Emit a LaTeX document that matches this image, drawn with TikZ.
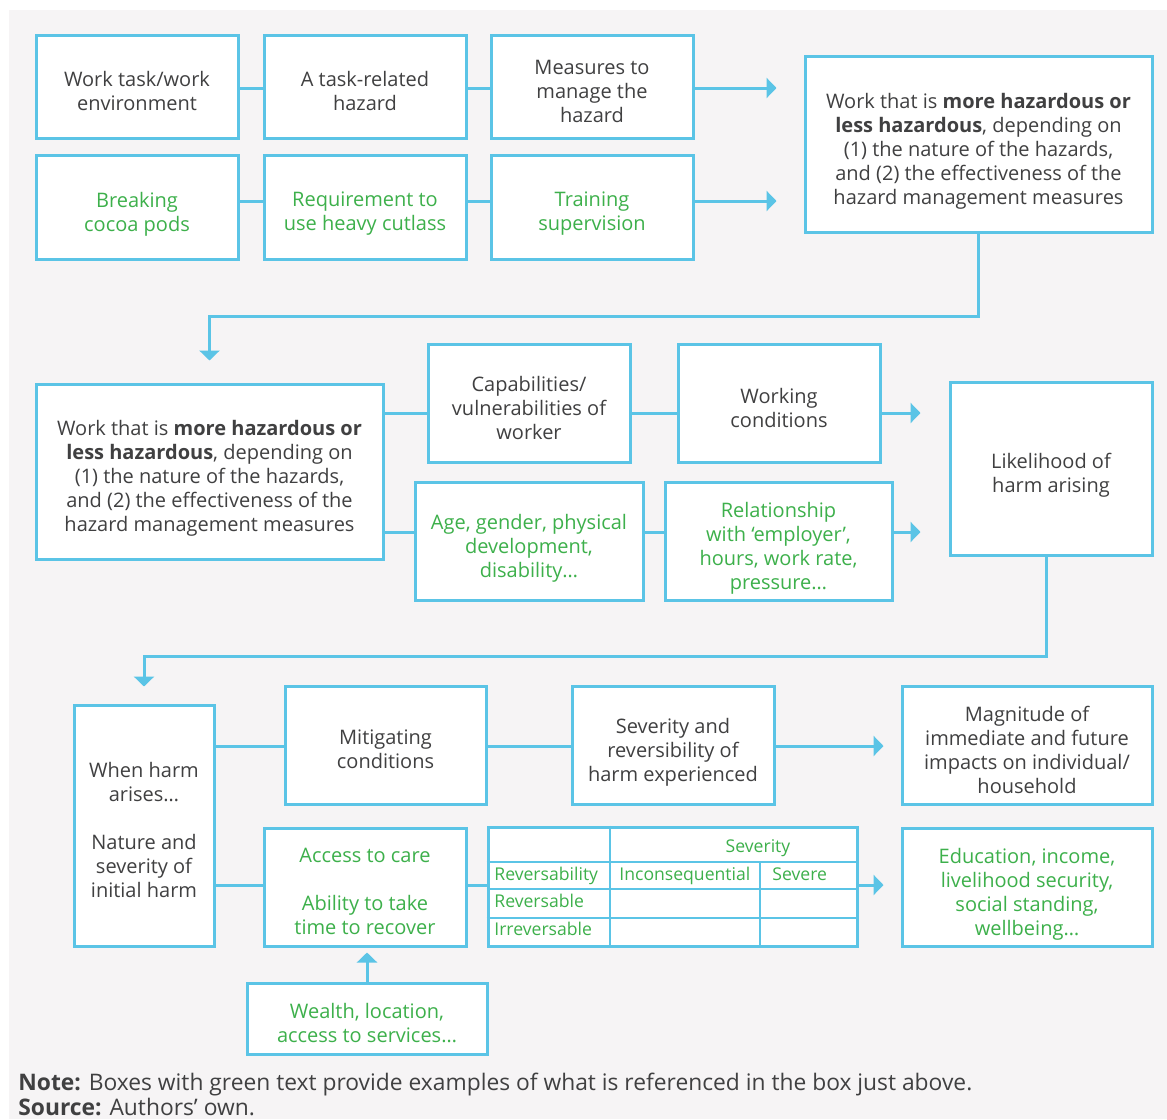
\documentclass[tikz,border=0pt]{standalone}
\usepackage{fontspec}
\setmainfont{Open Sans}
\usetikzlibrary{arrows.meta, calc}

\definecolor{linkblue}{HTML}{5BC4E6}
\definecolor{leafgreen}{HTML}{3DB04B}
\definecolor{inkgray}{HTML}{404041}
\definecolor{pagegray}{HTML}{F6F4F5}

\tikzset{
  box/.style={draw=linkblue, line width=1.5pt, fill=white, align=center,
    inner sep=1pt, text=inkgray, font=\fontsize{10}{12}\selectfont,
    text depth=0pt,
    execute at begin node={\lower4.6pt\hbox\bgroup},
    execute at end node={\egroup}},
  eg/.style={box, text=leafgreen},
  link/.style={draw=linkblue, line width=1.5pt},
  arrow/.style={link, -{Triangle[length=5pt, width=10pt]}},
  cell/.style={text=leafgreen, font=\fontsize{8.8}{10}\selectfont, inner sep=0pt},
  notetext/.style={text=inkgray, inner sep=0pt, anchor=base west,
    font=\fontsize{11.4}{13}\selectfont},
}

\begin{document}
\begin{tikzpicture}[x=0.5pt, y=-0.5pt]
  \useasboundingbox (0,0) rectangle (1167,1119);
  \fill[white] (0,0) rectangle (1167,1119);
  \fill[pagegray] (9,10) rectangle (1167,1119);

  % Levels of the connectors
  \coordinate (r1) at (0,88);
  \coordinate (r2) at (0,201);
  \coordinate (r3) at (0,413);
  \coordinate (r4) at (0,532);
  \coordinate (r5) at (0,746);
  \coordinate (r6) at (0,885);

  % Top block
  \node[box, minimum width=101pt, minimum height=51.5pt] (task) at (137,86.5) {Work task/work\\environment};
  \node[box, minimum width=101pt, minimum height=51.5pt] (hazard) at (365,86.5) {A task-related\\hazard};
  \node[box, minimum width=101pt, minimum height=51.5pt] (measures) at (592,86.5) {Measures to\\manage the\\hazard};
  \node[eg, minimum width=101pt, minimum height=52pt] (pods) at (137,207) {Breaking\\cocoa pods};
  \node[eg, minimum width=101pt, minimum height=52pt] (cutlass) at (365,207) {Requirement to\\use heavy cutlass};
  \node[eg, minimum width=101pt, minimum height=52pt] (training) at (592,207) {Training\\supervision};
  \node[box, minimum width=173.5pt, minimum height=88pt] (exposure) at (978.5,144)
    {Work that is \textbf{more hazardous or}\\\textbf{less hazardous}, depending on\\(1) the nature of the hazards,\\and (2) the effectiveness of the\\hazard management measures};

  \draw[link] (task.east |- r1) -- (hazard.west |- r1);
  \draw[link] (hazard.east |- r1) -- (measures.west |- r1);
  \draw[arrow, shorten >=13.5pt] (measures.east |- r1) -- (exposure.west |- r1);
  \draw[link] (pods.east |- r2) -- (cutlass.west |- r2);
  \draw[link] (cutlass.east |- r2) -- (training.west |- r2);
  \draw[arrow, shorten >=13.5pt] (training.east |- r2) -- (exposure.west |- r2);

  % Middle block
  \node[box, minimum width=173.5pt, minimum height=87.5pt] (exposureb) at (209.5,471.5)
    {Work that is \textbf{more hazardous or}\\\textbf{less hazardous}, depending on\\(1) the nature of the hazards,\\and (2) the effectiveness of the\\hazard management measures};
  \node[box, minimum width=101pt, minimum height=59pt] (capability) at (529,403) {Capabilities/\\vulnerabilities of\\worker};
  \node[box, minimum width=101pt, minimum height=59pt] (conditions) at (779,403) {Working\\conditions};
  \node[eg, minimum width=114pt, minimum height=59pt] (profile) at (529,541) {Age, gender, physical\\development,\\disability…};
  \node[eg, minimum width=113.5pt, minimum height=59pt] (relation) at (778.5,541) {Relationship\\with ‘employer’,\\hours, work rate,\\pressure…};
  \node[box, minimum width=101pt, minimum height=86.5pt] (likelihood) at (1051,468.5) {Likelihood of\\harm arising};

  \draw[arrow, shorten >=11pt] (exposure.south) -- ++(0,83) -| (exposureb.north);
  \draw[link] (exposureb.east |- r3) -- (capability.west |- r3);
  \draw[link] (capability.east |- r3) -- (conditions.west |- r3);
  \draw[arrow, shorten >=14pt] (conditions.east |- r3) -- (likelihood.west |- r3);
  \draw[link] (exposureb.east |- r4) -- (profile.west |- r4);
  \draw[link] (profile.east |- r4) -- (relation.west |- r4);
  \draw[arrow, shorten >=14pt] (relation.east |- r4) -- (likelihood.west |- r4);

  % Bottom block
  \node[box, minimum width=70pt, minimum height=120.5pt] (harm) at (144,825.5)
    {When harm\\arises…\\[12pt]Nature and\\severity of\\initial harm};
  \node[box, minimum width=100.5pt, minimum height=59pt] (mitigation) at (385.5,745) {Mitigating\\conditions};
  \node[box, minimum width=101pt, minimum height=59pt] (severity) at (673,745) {Severity and\\reversibility of\\harm experienced};
  \node[box, minimum width=125pt, minimum height=59pt] (magnitude) at (1027,745) {Magnitude of\\immediate and future\\impacts on individual/\\household};
  \node[eg, minimum width=101pt, minimum height=59pt] (care) at (365,887) {Access to care\\[12pt]Ability to take\\time to recover};
  \node[eg, minimum width=125pt, minimum height=59pt] (impacts) at (1027,887) {Education, income,\\livelihood security,\\social standing,\\wellbeing…};
  \node[eg, minimum width=120pt, minimum height=35.5pt] (wealth) at (367,1018.5) {Wealth, location,\\access to services…};

  % Severity table
  \node[draw=linkblue, line width=1.5pt, fill=white, inner sep=0pt,
    minimum width=184.5pt, minimum height=59.5pt] (grid) at (672.5,886.5) {};
  \foreach \y in {862,889,918}
    \draw[link, line width=1.2pt] (grid.west |- 0,\y) -- (grid.east |- 0,\y);
  \draw[link, line width=1.2pt] (grid.north -| 610,0) -- (grid.south -| 610,0);
  \draw[link, line width=1.2pt] (760,862) -- (grid.south -| 760,0);
  \node[cell, anchor=base] (sevhead) at (758,852) {Severity};
  \node[cell, anchor=base west] (revhead) at (494,880) {Reversability};
  \node[cell, anchor=base west] (mild) at (619,880) {Inconsequential};
  \node[cell, anchor=base west] (grave) at (772,880) {Severe};
  \node[cell, anchor=base west] (revrow) at (494,907) {Reversable};
  \node[cell, anchor=base west] (irrevrow) at (494,935) {Irreversable};

  \draw[arrow, shorten >=8.5pt] ([xshift=-2.5pt]likelihood.south) -- ++(0,100) -| (harm.north);
  \draw[link] (harm.east |- r5) -- (mitigation.west |- r5);
  \draw[link] (mitigation.east |- r5) -- (severity.west |- r5);
  \draw[arrow, shorten >=8.5pt] (severity.east |- r5) -- (magnitude.west |- r5);
  \draw[link] (harm.east |- r6) -- (care.west |- r6);
  \draw[link] (care.east |- r6) -- (grid.west |- r6);
  \draw[arrow, shorten >=8.5pt] (grid.east |- r6) -- (impacts.west |- r6);
  \draw[arrow, shorten >=2.5pt] (wealth.north) -- (wealth.north |- care.south);

  % Note and source
  \node[notetext] (note) at (18,1090) {\textbf{Note:} Boxes with green text provide examples of what is referenced in the box just above.};
  \node[notetext] (source) at (18,1115) {\textbf{Source:} Authors’ own.};
\end{tikzpicture}
\end{document}
